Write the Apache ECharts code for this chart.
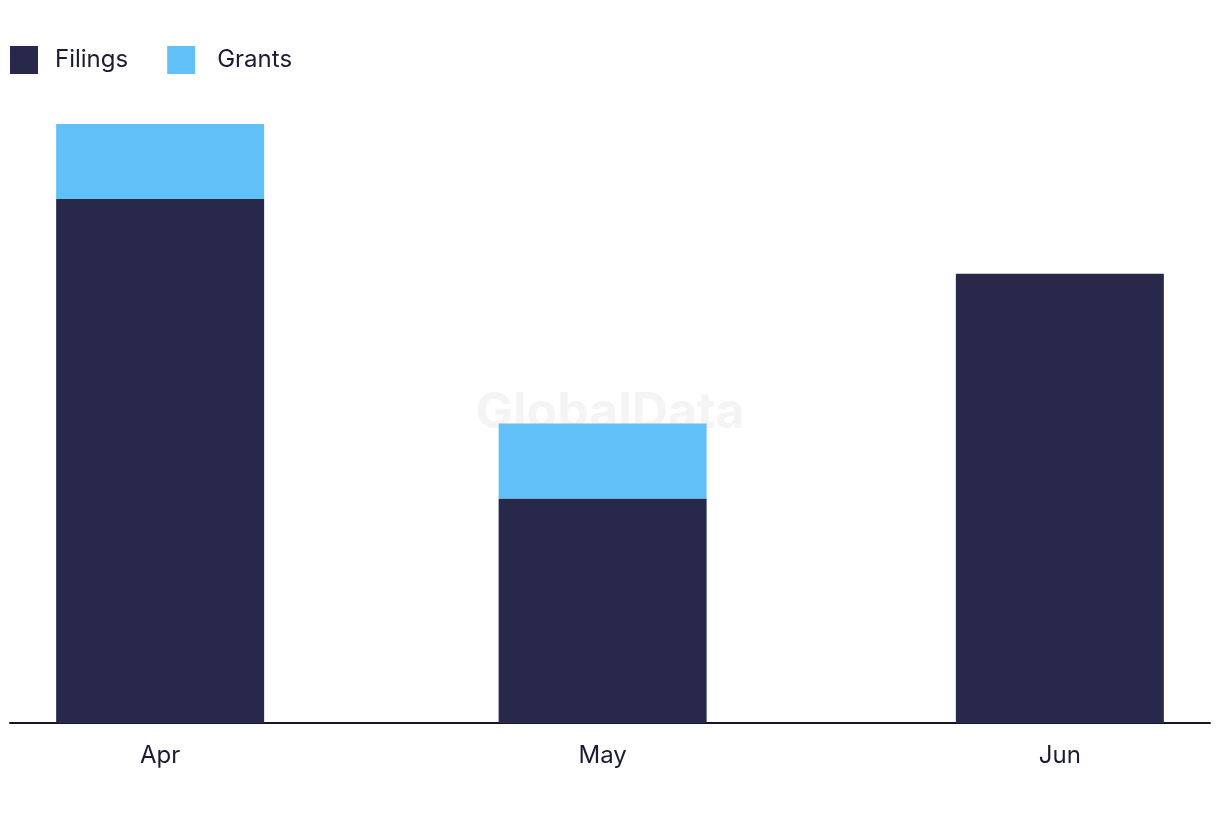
<!DOCTYPE html>
<html>
<head>
<meta charset="utf-8">
<script src="https://cdn.jsdelivr.net/npm/echarts@6/dist/echarts.min.js"></script>
<style>
html,body{margin:0;padding:0;background:#fff;}
#chart{width:1220px;height:822px;}
</style>
</head>
<body>
<div id="chart"></div>
<script>
const months = ['Apr', 'May', 'Jun'];
const monthDates = ['2024-04-01', '2024-05-01', '2024-06-01'];
const filings = [7, 3, 6];
const grants = [1, 1, 0];

const DAY = 86400000;
const ts = monthDates.map(d => Date.parse(d + 'T00:00:00Z'));

// visible padding (in days) either side of the first/last month; ECharts widens a
// time axis by the bar width, so shrink the raw padding to compensate.
const plotW = 1200, barW = 208, visiblePad = 10.18;
const span = (ts[2] - ts[0]) / DAY;
const rawRange = (span + 2 * visiblePad) * (1 - barW / plotW);
const pad = (rawRange - span) / 2 * DAY;

const chart = echarts.init(document.getElementById('chart'));
const font = 'Inter, "Noto Sans", sans-serif';
chart.setOption({
  animation: false,
  useUTC: true,
  textStyle: { fontFamily: font },
  legend: {
    left: 5, top: 41,
    itemWidth: 28, itemHeight: 28, itemGap: 39,
    icon: 'rect',
    textStyle: { fontSize: 24, color: '#1b1b33', fontFamily: font, padding: [0, 0, 0, 12] },
    data: ['Filings', { name: 'Grants', textStyle: { padding: [0, 0, 0, 17] } }]
  },
  graphic: [{
    type: 'text', left: 'center', top: 388, z: -10, silent: true,
    style: { text: 'GlobalData', fontSize: 50, fontWeight: 'bold', fill: '#f4f4f4', fontFamily: font }
  }],
  grid: { left: 10, right: 10, top: 124, bottom: 99 },
  xAxis: {
    type: 'time',
    min: ts[0] - pad, max: ts[2] + pad,
    splitNumber: 3,
    axisLine: { show: true, onZero: false, lineStyle: { color: '#14142b', width: 2 } },
    axisTick: { show: false },
    splitLine: { show: false },
    axisLabel: {
      fontSize: 24, color: '#1b1b33', margin: 21, fontFamily: font, fontWeight: 'normal',
      formatter: v => { const i = ts.indexOf(v); return i >= 0 ? months[i] : ''; }
    }
  },
  yAxis: { type: 'value', min: 0, max: 8, show: false, splitLine: { show: false } },
  series: [
    { name: 'Filings', type: 'bar', stack: 'a', barWidth: barW, itemStyle: { color: '#28284b' },
      data: ts.map((t, i) => [t, filings[i]]) },
    { name: 'Grants', type: 'bar', stack: 'a', barWidth: barW, itemStyle: { color: '#62c0f9' },
      data: ts.map((t, i) => [t, grants[i]]) }
  ]
});
</script>
</body>
</html>
